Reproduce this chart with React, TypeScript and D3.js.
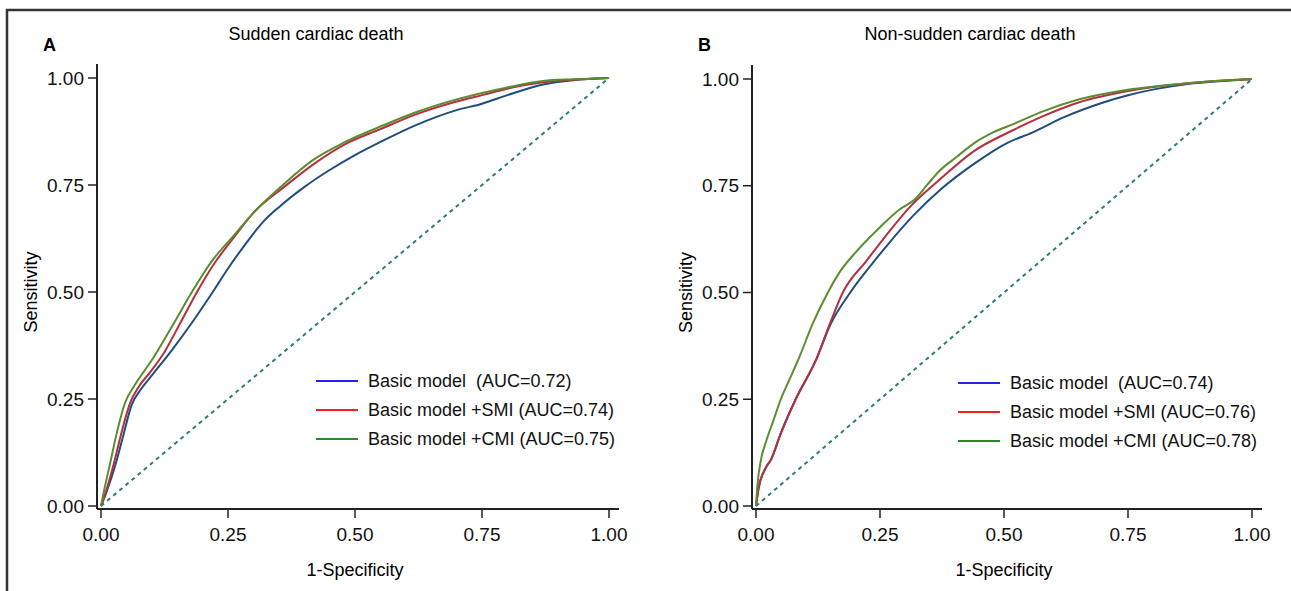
import React from "react";
import * as d3 from "d3";

// ROC points [1-specificity, sensitivity]
const sudBasic = [
  [0, 0], [0.01, 0.03], [0.031, 0.107], [0.045, 0.17], [0.06, 0.235], [0.08, 0.275],
  [0.1, 0.305], [0.14, 0.365], [0.18, 0.43], [0.22, 0.5], [0.25, 0.555], [0.28, 0.605],
  [0.32, 0.665], [0.352, 0.7], [0.4, 0.745], [0.45, 0.785], [0.5, 0.82], [0.549, 0.85],
  [0.62, 0.89], [0.7, 0.925], [0.75, 0.94], [0.8, 0.96], [0.87, 0.985], [0.93, 0.995], [1, 1],
];
const sudSMI = [
  [0, 0], [0.01, 0.035], [0.027, 0.107], [0.04, 0.17], [0.057, 0.24], [0.075, 0.28],
  [0.095, 0.31], [0.125, 0.36], [0.155, 0.425], [0.189, 0.5], [0.225, 0.57], [0.26, 0.625],
  [0.3, 0.685], [0.36, 0.745], [0.42, 0.8], [0.48, 0.845], [0.549, 0.88], [0.62, 0.915],
  [0.7, 0.945], [0.75, 0.96], [0.8, 0.975], [0.87, 0.99], [0.93, 0.996], [1, 1],
];
const sudCMI = [
  [0, 0], [0.005, 0.03], [0.018, 0.1], [0.03, 0.165], [0.047, 0.24], [0.065, 0.28],
  [0.085, 0.315], [0.105, 0.35], [0.14, 0.42], [0.179, 0.5], [0.22, 0.575], [0.26, 0.63],
  [0.3, 0.685], [0.358, 0.75], [0.417, 0.808], [0.48, 0.85], [0.549, 0.886], [0.62, 0.92],
  [0.7, 0.95], [0.75, 0.965], [0.8, 0.978], [0.87, 0.993], [0.93, 0.997], [1, 1],
];

const nonBasic = [
  [0, 0], [0.005, 0.04], [0.02, 0.09], [0.03, 0.108], [0.05, 0.17], [0.08, 0.25],
  [0.121, 0.342], [0.15, 0.425], [0.19, 0.5], [0.236, 0.57], [0.264, 0.61], [0.317, 0.68],
  [0.371, 0.74], [0.438, 0.8], [0.506, 0.85], [0.558, 0.875], [0.62, 0.91], [0.7, 0.945],
  [0.75, 0.962], [0.87, 0.988], [0.95, 0.996], [1, 1],
];
const nonSMI = [
  [0, 0], [0.005, 0.04], [0.02, 0.09], [0.03, 0.108], [0.05, 0.17], [0.08, 0.25],
  [0.121, 0.342], [0.15, 0.43], [0.175, 0.5], [0.224, 0.576], [0.27, 0.645], [0.31, 0.7],
  [0.371, 0.765], [0.438, 0.83], [0.518, 0.88], [0.573, 0.91], [0.65, 0.945], [0.75, 0.972],
  [0.87, 0.99], [0.95, 0.997], [1, 1],
];
const nonCMI = [
  [0, 0], [0.003, 0.05], [0.01, 0.108], [0.02, 0.15], [0.035, 0.2], [0.05, 0.25],
  [0.065, 0.29], [0.085, 0.342], [0.115, 0.429], [0.145, 0.5], [0.17, 0.55], [0.2, 0.593],
  [0.25, 0.653], [0.29, 0.695], [0.32, 0.718], [0.345, 0.752], [0.37, 0.785], [0.405, 0.818],
  [0.44, 0.85], [0.478, 0.875], [0.52, 0.895], [0.573, 0.922], [0.65, 0.952], [0.75, 0.975],
  [0.87, 0.99], [0.95, 0.997], [1, 1],
];

const ticks = [0, 0.25, 0.5, 0.75, 1];
const sudLabels = ["Basic model  (AUC=0.72)", "Basic model +SMI (AUC=0.74)", "Basic model +CMI (AUC=0.75)"];
const nonLabels = ["Basic model  (AUC=0.74)", "Basic model +SMI (AUC=0.76)", "Basic model +CMI (AUC=0.78)"];

const curveColors = ["#1f4d7e", "#b3303e", "#5b8d30"];
const legendColors = ["#2222ee", "#ee2222", "#2a8a2a"];
const font = "'Liberation Sans', Arial, sans-serif";

type Pt = number[];

function Panel({ letter, title, titleX, series, labels, x0, x1, y0, y1, legX, legY }: {
  letter: string; title: string; titleX: number; series: Pt[][]; labels: string[];
  x0: number; x1: number; y0: number; y1: number; legX: number; legY: number;
}) {
  const x = d3.scaleLinear().domain([0, 1]).range([x0, x1]);
  const y = d3.scaleLinear().domain([0, 1]).range([y0, y1]);
  const line = d3.line<Pt>().x((d) => x(d[0])).y((d) => y(d[1])).curve(d3.curveMonotoneX);
  const axX = x0 - 4;
  const axY = y0 + 3;
  return (
    <g>
      <text x={x0 - 58} y={51} fontSize={18} fontWeight="bold" fontFamily={font}>{letter}</text>
      <text x={titleX} y={40} fontSize={18} textAnchor="middle" fontFamily={font}>{title}</text>
      <path d={line([[0, 0], [1, 1]]) || ""} fill="none" stroke="#2e7d72" strokeWidth={2} strokeDasharray="4,4" />
      {series.map((s, i) => (
        <path key={i} d={line(s) || ""} fill="none" stroke={curveColors[i]} strokeWidth={2} strokeLinejoin="round" />
      ))}
      <line x1={axX} x2={axX} y1={y1 - 14} y2={axY} stroke="#222" strokeWidth={2} />
      <line x1={axX} x2={x1 + 10} y1={axY} y2={axY} stroke="#222" strokeWidth={2} />
      {ticks.map((t) => (
        <g key={"y" + t}>
          <line x1={axX - 9} x2={axX} y1={y(t)} y2={y(t)} stroke="#222" strokeWidth={1.5} />
          <text x={axX - 13} y={y(t)} dy="0.35em" textAnchor="end" fontSize={19} fontFamily={font} fill="#111">{t.toFixed(2)}</text>
        </g>
      ))}
      {ticks.map((t) => (
        <g key={"x" + t}>
          <line x1={x(t)} x2={x(t)} y1={axY} y2={axY + 9} stroke="#222" strokeWidth={1.5} />
          <text x={x(t)} y={axY + 32} textAnchor="middle" fontSize={19} fontFamily={font} fill="#111">{t.toFixed(2)}</text>
        </g>
      ))}
      <text x={(x0 + x1) / 2} y={576} textAnchor="middle" fontSize={18} fontFamily={font}>1-Specificity</text>
      <text transform={`translate(${x0 - 64},${y(0.5)}) rotate(-90)`} textAnchor="middle" fontSize={18} fontFamily={font}>Sensitivity</text>
      {labels.map((l, i) => (
        <g key={l} transform={`translate(${legX},${legY + i * 29})`}>
          <line x1={0} x2={42} y1={0} y2={0} stroke={legendColors[i]} strokeWidth={2} />
          <text x={52} y={0} dy="0.35em" fontSize={18} fontFamily={font} fill="#111" style={{ whiteSpace: "pre" }}>{l}</text>
        </g>
      ))}
    </g>
  );
}

export default function App() {
  return (
    <svg width={1291} height={591} style={{ position: "absolute", left: 0, top: 0, background: "#fff" }}>
      <rect x={0} y={0} width={1291} height={591} fill="#fff" />
      <path d="M7,591 V10 H1291" fill="none" stroke="#333" strokeWidth={2.5} />
      <Panel letter="A" title="Sudden cardiac death" titleX={316} series={[sudBasic, sudSMI, sudCMI]} labels={sudLabels}
        x0={101} x1={609} y0={506} y1={78} legX={316} legY={381} />
      <Panel letter="B" title="Non-sudden cardiac death" titleX={970} series={[nonBasic, nonSMI, nonCMI]} labels={nonLabels}
        x0={756} x1={1252} y0={506} y1={79} legX={958} legY={383} />
    </svg>
  );
}
